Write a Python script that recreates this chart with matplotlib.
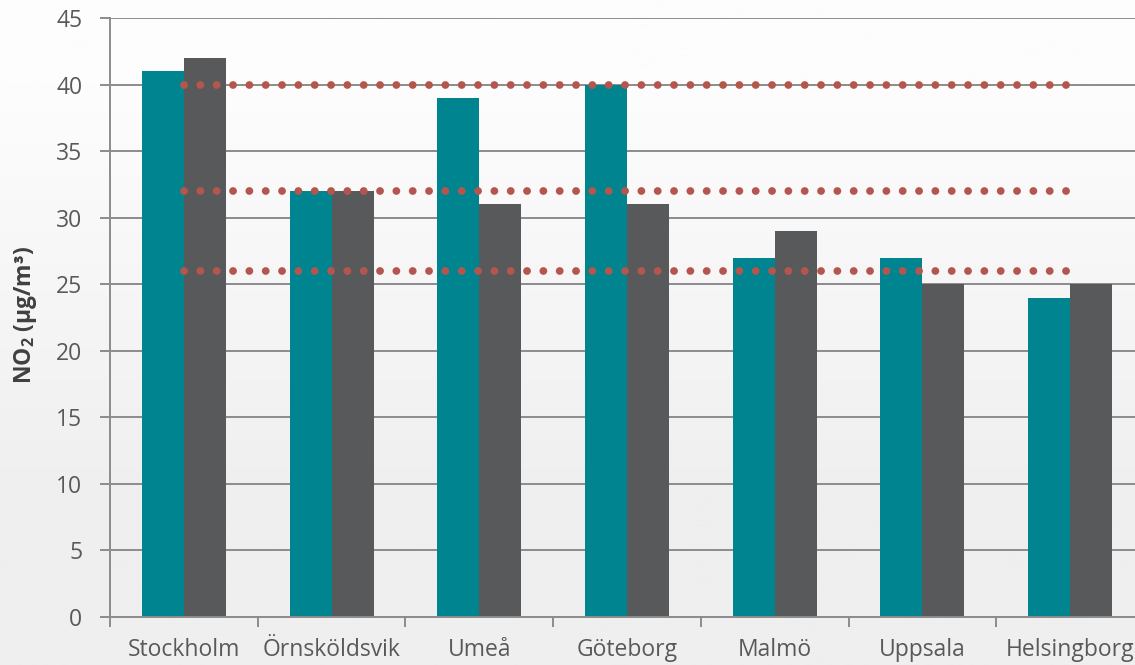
import matplotlib
matplotlib.use("Agg")
import matplotlib.pyplot as plt
import numpy as np
from matplotlib.colors import LinearSegmentedColormap

categories = ["Stockholm", "Örnsköldsvik", "Umeå", "Göteborg", "Malmö", "Uppsala", "Helsingborg"]
series_a = [41, 32, 39, 40, 27, 27, 24]
series_b = [42, 32, 31, 31, 29, 25, 25]
ref_levels = [40, 32, 26]
y_ticks = [0, 5, 10, 15, 20, 25, 30, 35, 40, 45]

plt.rcParams['font.family'] = ['Open Sans', 'DejaVu Sans']
plt.rcParams['mathtext.fontset'] = 'custom'
plt.rcParams['mathtext.rm'] = 'Open Sans'
plt.rcParams['mathtext.bf'] = 'Open Sans:bold'

W, H = 1135, 665
fig = plt.figure(figsize=(W / 100, H / 100), dpi=100)

# background gradient
bg = fig.add_axes([0, 0, 1, 1], zorder=-10)
grad = np.linspace(0, 1, 256).reshape(-1, 1)
grad = np.clip(grad * 1.6 - 0.2, 0, 1)
cmap = LinearSegmentedColormap.from_list("bg", ["#fdfdfd", "#efefef"])
bg.imshow(grad, aspect='auto', cmap=cmap, extent=[0, 1, 0, 1], origin='upper')
bg.axis('off')

left = 110 / W
bottom = (H - 617) / H
width = 1034 / W
height = (617 - 18) / H
ax = fig.add_axes([left, bottom, width, height])
ax.patch.set_alpha(0)

x = np.arange(len(categories))
bw = 42 / 147.7
teal = "#00848F"
grey = "#58595B"
grid_c = "#8C8C8C"

ax.set_axisbelow(True)
ax.yaxis.grid(True, color=grid_c, linewidth=1.4)
ax.bar(x - bw / 2, series_a, width=bw, color=teal, zorder=2)
ax.bar(x + bw / 2, series_b, width=bw, color=grey, zorder=2)

for lvl in ref_levels:
    ax.plot([x[0], x[-1]], [lvl, lvl], color="#B5564E", linewidth=5.6,
            linestyle=(0, (0.01, 2.09)), dash_capstyle='round', zorder=3)

ax.set_xlim(-0.5, len(categories) - 0.5)
ax.set_ylim(0, 45)
ax.set_yticks(y_ticks)
ax.set_yticklabels([str(v) for v in y_ticks])
ax.set_xticks(np.arange(len(categories) + 1) - 0.5, minor=False)
ax.set_xticklabels([])
ax.set_xticks(x, minor=True)
ax.set_xticklabels(categories, minor=True)
ax.tick_params(axis='x', which='major', length=7, width=1.4, color=grid_c, direction='out')
ax.tick_params(axis='x', which='minor', length=0, pad=15, labelsize=16.5, labelcolor="#595959")
ax.tick_params(axis='y', length=7, width=1.4, color=grid_c, direction='out', pad=13,
               labelsize=16.5, labelcolor="#595959")

for s in ['top', 'right']:
    ax.spines[s].set_visible(False)
for s in ['left', 'bottom']:
    ax.spines[s].set_color(grid_c)
    ax.spines[s].set_linewidth(1.4)

ax.set_ylabel(r"$\mathbf{NO_2}$ (µg/m³)", fontsize=16.5, fontweight='bold',
              color="#404040")
ax.yaxis.label.set_va('center')
ax.yaxis.set_label_coords(-0.082, 0.505)

fig.savefig("out.png", dpi=100)
